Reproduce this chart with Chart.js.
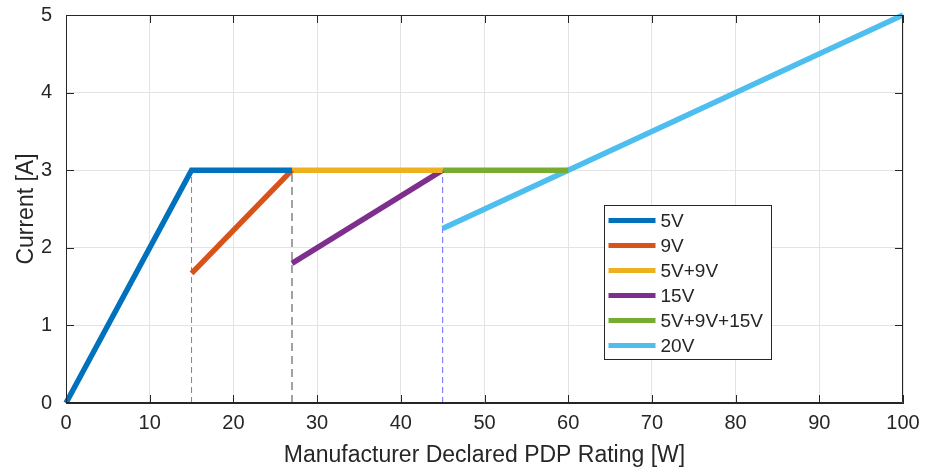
<!DOCTYPE html>
<html>
<head>
<meta charset="utf-8">
<script src="https://cdn.jsdelivr.net/npm/chart.js@4/dist/chart.umd.min.js"></script>
<style>
  body { margin: 0; background: #fff; }
  #wrap { width: 930px; height: 470px; }
</style>
</head>
<body>
<div id="wrap"><canvas id="pdpChart"></canvas></div>
<script>
// series data: PDP rating [W] vs current [A]
const seriesNames = ['5V', '9V', '5V+9V', '15V', '5V+9V+15V', '20V'];
const seriesColors = ['#0072BD', '#D95319', '#EDB120', '#7E2F8E', '#77AC30', '#4DBEEE'];
const xs5V = [0, 15, 27];        const ys5V = [0, 3, 3];
const xs9V = [15, 27];           const ys9V = [1.67, 3];
const xs5V9V = [27, 45];         const ys5V9V = [3, 3];
const xs15V = [27, 45];          const ys15V = [1.8, 3];
const xs5V9V15V = [45, 60];      const ys5V9V15V = [3, 3];
const xs20V = [45, 100];         const ys20V = [2.25, 5];

// vertical dashed guide lines
const guideX = [15, 27, 45];
const guideTop = [3, 3, 3];
const guideColors = ['#E040E0', '#8C8C8C', 'rgba(60,60,255,0.75)'];

const xTicks = [0, 10, 20, 30, 40, 50, 60, 70, 80, 90, 100];
const yTicks = [0, 1, 2, 3, 4, 5];

const FONT = "'Liberation Sans', Arial, sans-serif";
const INK = '#262626';

const seriesXs = [xs5V, xs9V, xs5V9V, xs15V, xs5V9V15V, xs20V];
const seriesYs = [ys5V, ys9V, ys5V9V, ys15V, ys5V9V15V, ys20V];

const datasets = seriesNames.map((name, i) => ({
  label: name,
  data: seriesXs[i].map((x, k) => ({ x: x, y: seriesYs[i][k] })),
  borderColor: seriesColors[i],
  backgroundColor: seriesColors[i],
  borderWidth: 5.5,
  pointRadius: 0,
  borderCapStyle: 'butt',
  clip: 4
}));

guideX.forEach((x, i) => {
  datasets.push({
    label: '',
    isGuide: true,
    data: [{ x: x, y: 0 }, { x: x, y: guideTop[i] }],
    borderColor: guideColors[i],
    borderWidth: i === 1 ? 1.6 : 1,
    borderDash: i === 1 ? [8, 5] : [6, 4],
    pointRadius: 0
  });
});

// box around axes with inward ticks (matlab style)
const framePlugin = {
  id: 'frame',
  afterDatasetsDraw(chart) {
    const { ctx, chartArea: a, scales } = chart;
    ctx.save();
    ctx.strokeStyle = INK;
    ctx.lineWidth = 1;
    ctx.beginPath();
    ctx.moveTo(a.left + 0.5, a.top + 0.5);
    ctx.lineTo(a.right - 0.5, a.top + 0.5);
    ctx.lineTo(a.right - 0.5, a.bottom - 0.5);
    ctx.lineTo(a.left + 0.5, a.bottom - 0.5);
    ctx.closePath();
    ctx.stroke();
    const tl = 8;
    ctx.beginPath();
    xTicks.forEach(v => {
      const px = Math.round(scales.x.getPixelForValue(v)) + 0.5;
      ctx.moveTo(px, a.bottom); ctx.lineTo(px, a.bottom - tl);
      ctx.moveTo(px, a.top); ctx.lineTo(px, a.top + tl);
    });
    yTicks.forEach(v => {
      const py = Math.round(scales.y.getPixelForValue(v)) + 0.5;
      ctx.moveTo(a.left, py); ctx.lineTo(a.left + tl, py);
      ctx.moveTo(a.right, py); ctx.lineTo(a.right - tl, py);
    });
    ctx.stroke();

    // legend box
    const lx = 604.5, ly = 205.5, lw = 167, lh = 154;
    ctx.fillStyle = '#fff';
    ctx.fillRect(lx, ly, lw, lh);
    ctx.strokeStyle = INK;
    ctx.strokeRect(lx, ly, lw, lh);
    ctx.font = '19px ' + FONT;
    ctx.textBaseline = 'middle';
    ctx.fillStyle = INK;
    chart.data.datasets.filter(d => !d.isGuide).forEach((d, i) => {
      const y = ly + 15 + i * 25;
      ctx.strokeStyle = d.borderColor;
      ctx.lineWidth = 5;
      ctx.beginPath();
      ctx.moveTo(lx + 4, y); ctx.lineTo(lx + 51, y);
      ctx.stroke();
      ctx.fillText(d.label, lx + 56, y + 1);
    });
    ctx.restore();
  }
};

const ctx = document.getElementById('pdpChart').getContext('2d');
const chart = new Chart(ctx, {
  type: 'line',
  data: { datasets: datasets },
  options: {
    responsive: true,
    maintainAspectRatio: false,
    animation: false,
    layout: { padding: { top: 15, right: 27, left: 0, bottom: 0 } },
    plugins: { legend: { display: false }, tooltip: { enabled: false } },
    scales: {
      x: {
        type: 'linear',
        min: 0, max: 100,
        afterBuildTicks: s => { s.ticks = xTicks.map(v => ({ value: v })); },
        afterFit: s => { s.height = 67; s.paddingLeft = 0; s.paddingRight = 0; },
        grid: { color: '#E3E3E3', drawTicks: false },
        border: { color: INK },
        ticks: { color: INK, font: { family: FONT, size: 20 }, padding: 8, maxRotation: 0 },
        title: { display: true, text: 'Manufacturer Declared PDP Rating [W]', color: INK,
                 font: { family: FONT, size: 23 }, padding: { top: 0, bottom: 1 } }
      },
      y: {
        type: 'linear',
        min: 0, max: 5,
        afterBuildTicks: s => { s.ticks = yTicks.map(v => ({ value: v })); },
        afterFit: s => { s.width = 66; s.paddingTop = 0; s.paddingBottom = 0; },
        grid: { color: '#E3E3E3', drawTicks: false },
        border: { color: INK },
        ticks: { color: INK, font: { family: FONT, size: 20 }, padding: 14 },
        title: { display: true, text: 'Current [A]', color: INK,
                 font: { family: FONT, size: 23 }, padding: { top: 13, bottom: 0 } }
      }
    }
  },
  plugins: [framePlugin]
});
</script>
</body>
</html>
